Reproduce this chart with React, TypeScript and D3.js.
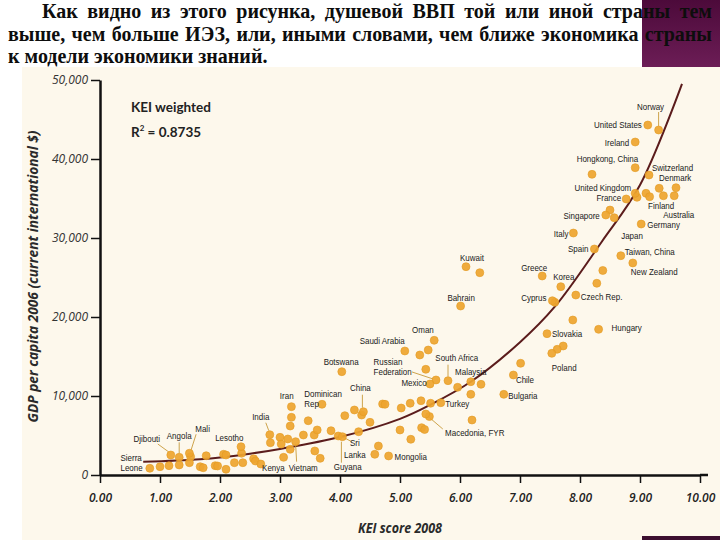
import React, { useEffect, useRef } from 'react';
import * as d3 from 'd3';

// intro paragraph (Russian), one entry per printed line
const introLines = [
    'Как видно из этого рисунка, душевой ВВП той или иной страны тем',
    'выше, чем больше ИЭЗ, или, иными словами, чем ближе экономика страны',
    'к модели экономики знаний.',
];

// named countries
const labelledNames = [
    'Norway', 'United States', 'Ireland', 'Hongkong, China', 'Switzerland', 'Denmark',
    'United Kingdom', 'France', 'Finland', 'Australia', 'Singapore', 'Germany', 'Japan',
    'Italy', 'Spain', 'Taiwan, China', 'New Zealand', 'Greece', 'Korea', 'Kuwait', 'Bahrain',
    'Cyprus', 'Czech Rep.', 'Hungary', 'Slovakia', 'Poland', 'Chile', 'Bulgaria',
    'Macedonia, FYR', 'Turkey', 'Malaysia', 'South Africa', 'Oman', 'Saudi Arabia',
    'Russian Federation', 'Mexico', 'Botswana', 'China', 'Dominican Rep.', 'Iran', 'India',
    'Sri Lanka', 'Guyana', 'Kenya', 'Vietnam', 'Lesotho', 'Mali', 'Angola', 'Djibouti',
    'Sierra Leone', 'Mongolia',
];
const labelledKei = [
    9.31, 9.13, 8.92, 8.92, 9.15, 9.60,
    8.92, 8.77, 9.16, 9.57, 8.43, 9.02, 8.57,
    7.89, 8.24, 8.68, 8.88, 7.37, 7.68, 6.10, 6.01,
    7.54, 7.93, 8.31, 7.45, 7.53, 6.89, 6.73,
    5.43, 5.68, 6.18, 5.80, 5.57, 5.08,
    5.60, 5.50, 4.03, 4.39, 3.70, 3.19, 2.83,
    3.97, 4.04, 2.68, 3.26, 2.35, 1.49, 1.32, 1.18,
    0.83, 4.81,
];
const labelledGdp = [
    43670, 44300, 42150, 38900, 37970, 36370,
    35660, 34940, 35230, 35350, 32910, 31770, 32570,
    30630, 28610, 27760, 26840, 25190, 23840, 26370, 21390,
    22060, 22780, 18440, 17890, 15400, 12660, 10210,
    7720, 9150, 11810, 11940, 17050, 15700,
    12030, 11520, 13080, 8010, 8950, 8650, 5100,
    4940, 4850, 1390, 4220, 3580, 2750, 2240, 2530,
    850, 2410,
];

// countries shown without a name
const otherKei = [
    1.00, 1.15, 1.32, 1.51, 1.49, 1.67, 1.72, 1.77, 1.92, 1.96, 2.06, 2.10, 2.10, 2.24,
    2.36, 2.38, 2.56, 2.59, 2.84, 3.00, 3.13, 3.02, 3.17, 3.06, 3.19, 3.17, 3.47, 3.39,
    3.57, 3.62, 3.85, 3.58, 3.67, 4.08, 4.24, 4.36, 4.31, 4.50, 4.58, 4.64, 4.71, 4.75,
    5.00, 5.02, 5.17, 5.18, 5.35, 5.36, 5.41, 5.33, 5.47, 5.43, 5.96, 6.35, 6.18, 7.01,
    5.51, 5.49, 6.20, 6.33, 8.28, 7.58, 7.88, 7.72, 7.62, 8.38, 8.50, 8.95, 9.10, 9.39,
    9.32, 8.20,
];
const otherGdp = [
    1050, 1180, 1270, 2320, 1560, 1050, 920, 2440, 1180, 1140, 2620, 2530, 720, 1560,
    2750, 1560, 2060, 1770, 4090, 4770, 4560, 3920, 3250, 2240, 7300, 6200, 6870, 5060,
    5060, 5700, 5610, 3040, 2110, 7510, 8230, 7590, 5480, 6670, 2620, 3670, 8990, 8950,
    5700, 8480, 9080, 4520, 9400, 5990, 5760, 15190, 15820, 13380, 11100, 11480, 10210, 14140,
    9080, 7400, 6960, 25610, 24270, 21860, 19620, 16330, 15910, 25890, 33540, 35150, 35660, 35350,
    36290, 38060,
];

// exponential trend
const trendKei = [0.72, 1.67, 2.5, 3.0, 4.0, 5.0, 5.5, 6.18, 7.0, 7.58, 8.36, 9.0, 9.7];
const trendGdp = [1680, 1990, 2700, 3300, 4800, 7100, 8860, 11800, 16800, 21300, 29500, 36700, 49500];

const xTicks = [0, 1, 2, 3, 4, 5, 6, 7, 8, 9, 10];
const yTicks = [0, 10000, 20000, 30000, 40000, 50000];

interface LabelSpec {
    dx: number;
    dy: number;
    anchor: 'start' | 'middle' | 'end';
    lines?: string[];
    lineHeight?: number;
    leader?: [number, number, number, number];
}

// where each name sits relative to its dot (pixels)
const labelLayout: Record<string, LabelSpec> = {
    'Norway': { dx: -8, dy: -20.5, anchor: 'middle', leader: [0, -18, 0, -4] },
    'United States': { dx: -6, dy: 3, anchor: 'end' },
    'Ireland': { dx: -6, dy: 3.5, anchor: 'end' },
    'Hongkong, China': { dx: 3, dy: -6, anchor: 'end' },
    'Switzerland': { dx: 3, dy: -4, anchor: 'start' },
    'Denmark': { dx: -17, dy: -6.5, anchor: 'start' },
    'United Kingdom': { dx: -4, dy: -2, anchor: 'end' },
    'France': { dx: -5, dy: 2.5, anchor: 'end' },
    'Finland': { dx: -1.5, dy: 12, anchor: 'start' },
    'Australia': { dx: -11, dy: 22.5, anchor: 'start' },
    'Singapore': { dx: -6, dy: 3.5, anchor: 'end' },
    'Germany': { dx: 6, dy: 3.5, anchor: 'start' },
    'Japan': { dx: 7, dy: 21, anchor: 'start' },
    'Italy': { dx: -5, dy: 3.5, anchor: 'end' },
    'Spain': { dx: -6, dy: 3.5, anchor: 'end' },
    'Taiwan, China': { dx: 4, dy: -1, anchor: 'start' },
    'New Zealand': { dx: -2, dy: 12, anchor: 'start' },
    'Greece': { dx: -8, dy: -5, anchor: 'middle' },
    'Korea': { dx: 3, dy: -6.5, anchor: 'middle' },
    'Kuwait': { dx: 6, dy: -5.5, anchor: 'middle' },
    'Bahrain': { dx: 0.5, dy: -5, anchor: 'middle' },
    'Cyprus': { dx: -6, dy: 0, anchor: 'end' },
    'Czech Rep.': { dx: 5, dy: 5, anchor: 'start' },
    'Hungary': { dx: 13, dy: 1.7, anchor: 'start' },
    'Slovakia': { dx: 5, dy: 3.3, anchor: 'start' },
    'Poland': { dx: 0, dy: 17.7, anchor: 'start' },
    'Chile': { dx: 2.5, dy: 8.5, anchor: 'start' },
    'Bulgaria': { dx: 4.5, dy: 4.2, anchor: 'start' },
    'Macedonia, FYR': { dx: 19.3, dy: 22, anchor: 'start', leader: [3, 3, 17, 15] },
    'Turkey': { dx: 4.5, dy: 4.3, anchor: 'start' },
    'Malaysia': { dx: 0, dy: -6.7, anchor: 'middle' },
    'South Africa': { dx: 8.8, dy: -19.7, anchor: 'middle', leader: [0, -16, 0, -4] },
    'Oman': { dx: -11.3, dy: -7.8, anchor: 'middle' },
    'Saudi Arabia': { dx: 0, dy: -6.5, anchor: 'end' },
    'Russian Federation': { dx: -62.4, dy: -15, anchor: 'start', lines: ['Russian', 'Federation'], lineHeight: 10, leader: [-24, -8, -3, -1] },
    'Mexico': { dx: -3.3, dy: 2, anchor: 'end' },
    'Botswana': { dx: -0.7, dy: -6.2, anchor: 'middle' },
    'China': { dx: -3, dy: -20.7, anchor: 'middle', leader: [-1, -17, -1, -4] },
    'Dominican Rep.': { dx: -17.7, dy: -7.5, anchor: 'start', lines: ['Dominican', 'Rep'] },
    'Iran': { dx: -4.7, dy: -7.2, anchor: 'middle' },
    'India': { dx: -9, dy: -14.7, anchor: 'middle', leader: [-4, -12, -1, -4] },
    'Sri Lanka': { dx: 16.7, dy: 10, anchor: 'middle', lines: ['Sri', 'Lanka'], lineHeight: 12.5, leader: [4.7, 1, 13.4, 5.7] },
    'Guyana': { dx: 5.3, dy: 33.3, anchor: 'middle', leader: [-1, 5, -1, 26] },
    'Kenya': { dx: 12.6, dy: 7, anchor: 'middle' },
    'Vietnam': { dx: 7.6, dy: 29.3, anchor: 'middle', leader: [0, 2, 1, 20] },
    'Lesotho': { dx: -11.7, dy: -6.2, anchor: 'middle' },
    'Mali': { dx: 13.2, dy: -20.8, anchor: 'middle', leader: [6.7, -19, 1.7, -3.3] },
    'Angola': { dx: 0, dy: -18.3, anchor: 'middle', leader: [0, -15, 0, -4] },
    'Djibouti': { dx: -24, dy: -13.5, anchor: 'middle', leader: [-13, -11, -2, -3] },
    'Sierra Leone': { dx: -29.3, dy: -7.5, anchor: 'start', lines: ['Sierra', 'Leone'], lineHeight: 10.2 },
    'Mongolia': { dx: 6, dy: 4, anchor: 'start' },
};

const W = 720;
const H = 540;
// country names are set in a condensed face: regular sans squeezed sideways
const LABEL_SQUEEZE = 0.83;

const App: React.FC = () => {
    const svgRef = useRef<SVGSVGElement>(null);

    useEffect(() => {
        if (!svgRef.current) return;
        const svg = d3.select(svgRef.current);
        svg.selectAll('*').remove();

        const x = d3.scaleLinear().domain([0, 10]).range([100, 700]);
        const y = d3.scaleLinear().domain([0, 50000]).range([475, 80]);

        // page + panel backgrounds
        svg.append('rect').attr('width', W).attr('height', H).attr('fill', '#ffffff');
        svg.append('rect')
            .attr('x', 22).attr('y', 67).attr('width', W - 22).attr('height', H - 67)
            .attr('fill', '#fdf8ec');

        const grad = svg.append('defs').append('linearGradient')
            .attr('id', 'plum').attr('x1', 0).attr('y1', 0).attr('x2', 0).attr('y2', 1);
        grad.append('stop').attr('offset', '0%').attr('stop-color', '#4c0a3a');
        grad.append('stop').attr('offset', '100%').attr('stop-color', '#6c1d56');
        svg.append('rect').attr('x', 642).attr('y', 0).attr('width', 78).attr('height', 67).attr('fill', 'url(#plum)');
        svg.append('rect').attr('x', 642).attr('y', 536).attr('width', 78).attr('height', 4).attr('fill', '#3d0f30');

        // justified intro text
        const intro = svg.append('g')
            .attr('font-family', '"Liberation Serif", "Times New Roman", serif')
            .attr('font-weight', 'bold')
            .attr('font-size', 20)
            .attr('fill', '#0d0d0d');
        introLines.forEach((line, i) => {
            const left = i === 0 ? 42 : 8;
            const baseY = 18 + i * 22.5;
            if (i === introLines.length - 1) {
                intro.append('text').attr('x', left).attr('y', baseY).text(line);
                return;
            }
            const words = line.split(' ');
            const nodes = words.map(w => intro.append('text').attr('y', baseY).text(w));
            const widths = nodes.map(n => (n.node() as SVGTextElement).getComputedTextLength());
            const gap = (712 - left - d3.sum(widths)) / (words.length - 1);
            let cx = left;
            nodes.forEach((n, j) => {
                n.attr('x', cx);
                cx += widths[j] + gap;
            });
        });

        // axes
        const yAxis = svg.append('g')
            .attr('transform', `translate(${x(0)},0)`)
            .call(d3.axisLeft(y).tickValues(yTicks).tickSize(9).tickSizeOuter(0).tickPadding(3)
                .tickFormat(d => d3.format(',')(d as number)));
        yAxis.select('.domain').attr('stroke', '#111').attr('stroke-width', 2.5);
        yAxis.selectAll('.tick line').attr('stroke', '#111').attr('stroke-width', 1.5);
        yAxis.selectAll('.tick text')
            .attr('font-family', '"Open Sans", sans-serif')
            .attr('font-style', 'italic')
            .attr('font-size', 12)
            .attr('fill', '#333');

        const xAxis = svg.append('g')
            .attr('transform', `translate(0,${y(0)})`)
            .call(d3.axisBottom(x).tickValues(xTicks).tickSize(8).tickSizeOuter(0).tickPadding(10)
                .tickFormat(d => d3.format('.2f')(d as number)));
        xAxis.select('.domain').attr('stroke', '#111').attr('stroke-width', 2.5);
        xAxis.selectAll('.tick line').attr('stroke', '#111').attr('stroke-width', 1.5);
        xAxis.selectAll('.tick text')
            .attr('font-family', '"Open Sans", sans-serif')
            .attr('font-style', 'italic')
            .attr('font-weight', 600)
            .attr('font-size', 12)
            .attr('fill', '#222');
        svg.append('line')
            .attr('x1', x(10)).attr('x2', x(10) + 8)
            .attr('y1', y(0)).attr('y2', y(0))
            .attr('stroke', '#111').attr('stroke-width', 2.5);

        // axis titles
        svg.append('text')
            .attr('transform', `translate(38,${(130 + 423) / 2}) rotate(-90)`)
            .attr('text-anchor', 'middle')
            .attr('font-family', '"Open Sans", sans-serif')
            .attr('font-style', 'italic')
            .attr('font-weight', 'bold')
            .attr('font-size', 13.5)
            .attr('textLength', 292)
            .attr('lengthAdjust', 'spacingAndGlyphs')
            .attr('fill', '#2a2a2a')
            .text('GDP per capita 2006 (current international $)');
        svg.append('text')
            .attr('x', 400).attr('y', 533)
            .attr('text-anchor', 'middle')
            .attr('font-family', '"Open Sans", sans-serif')
            .attr('font-style', 'italic')
            .attr('font-weight', 'bold')
            .attr('font-size', 13.5)
            .attr('textLength', 84)
            .attr('lengthAdjust', 'spacingAndGlyphs')
            .attr('fill', '#2a2a2a')
            .text('KEI score 2008');

        // fit annotation
        const note = svg.append('g').attr('font-family', 'Lato, sans-serif').attr('font-weight', 'bold').attr('fill', '#222');
        note.append('text').attr('x', 131).attr('y', 112).attr('font-size', 13.5).text('KEI weighted');
        const r2 = note.append('text').attr('x', 131).attr('y', 137).attr('font-size', 13.5);
        r2.append('tspan').text('R');
        r2.append('tspan').attr('font-size', 8).attr('dy', -6).text('2');
        r2.append('tspan').attr('dy', 6).text(' = 0.8735');

        // trend line
        const trend = trendKei.map((k, i) => [k, trendGdp[i]] as [number, number]);
        svg.append('path')
            .datum(trend)
            .attr('d', d3.line<[number, number]>()
                .x(d => x(d[0]))
                .y(d => y(d[1]))
                .curve(d3.curveCatmullRom.alpha(0.5)))
            .attr('fill', 'none')
            .attr('stroke', '#5b1c1c')
            .attr('stroke-width', 2);

        // leader lines
        const leaders = svg.append('g').attr('stroke', '#c79a3a').attr('stroke-width', 0.9);
        labelledNames.forEach((name, i) => {
            const spec = labelLayout[name];
            if (!spec || !spec.leader) return;
            const px = x(labelledKei[i]);
            const py = y(labelledGdp[i]);
            const [ax, ay, bx, by] = spec.leader;
            leaders.append('line')
                .attr('x1', px + ax).attr('y1', py + ay)
                .attr('x2', px + bx).attr('y2', py + by);
        });

        // dots
        const dots = svg.append('g')
            .attr('fill', '#eea52f').attr('fill-opacity', 0.93)
            .attr('stroke', '#e39a22').attr('stroke-width', 0.6);
        dots.selectAll('circle.other')
            .data(otherKei.map((k, i) => [k, otherGdp[i]]))
            .enter().append('circle')
            .attr('class', 'other')
            .attr('cx', d => x(d[0]))
            .attr('cy', d => y(d[1]))
            .attr('r', 4);
        dots.selectAll('circle.named')
            .data(labelledKei.map((k, i) => [k, labelledGdp[i]]))
            .enter().append('circle')
            .attr('class', 'named')
            .attr('cx', d => x(d[0]))
            .attr('cy', d => y(d[1]))
            .attr('r', 4);

        // country names
        const labels = svg.append('g')
            .attr('font-family', '"Liberation Sans", Arial, sans-serif')
            .attr('font-size', 9.6)
            .attr('fill', '#1a1a1a');
        labelledNames.forEach((name, i) => {
            const spec = labelLayout[name];
            if (!spec) return;
            const px = x(labelledKei[i]) + spec.dx;
            const py = y(labelledGdp[i]) + spec.dy;
            const t = labels.append('text')
                .attr('transform', `translate(${px},${py}) scale(${LABEL_SQUEEZE},1)`)
                .attr('text-anchor', spec.anchor);
            const lines = spec.lines ?? [name];
            lines.forEach((ln, j) => {
                t.append('tspan')
                    .attr('x', 0)
                    .attr('dy', j === 0 ? 0 : (spec.lineHeight ?? 10))
                    .text(ln);
            });
        });
    }, []);

    return (
        <div style={{ position: 'absolute', left: 0, top: 0, width: W, height: H }}>
            <svg ref={svgRef} width={W} height={H}></svg>
        </div>
    );
};

export default App;
